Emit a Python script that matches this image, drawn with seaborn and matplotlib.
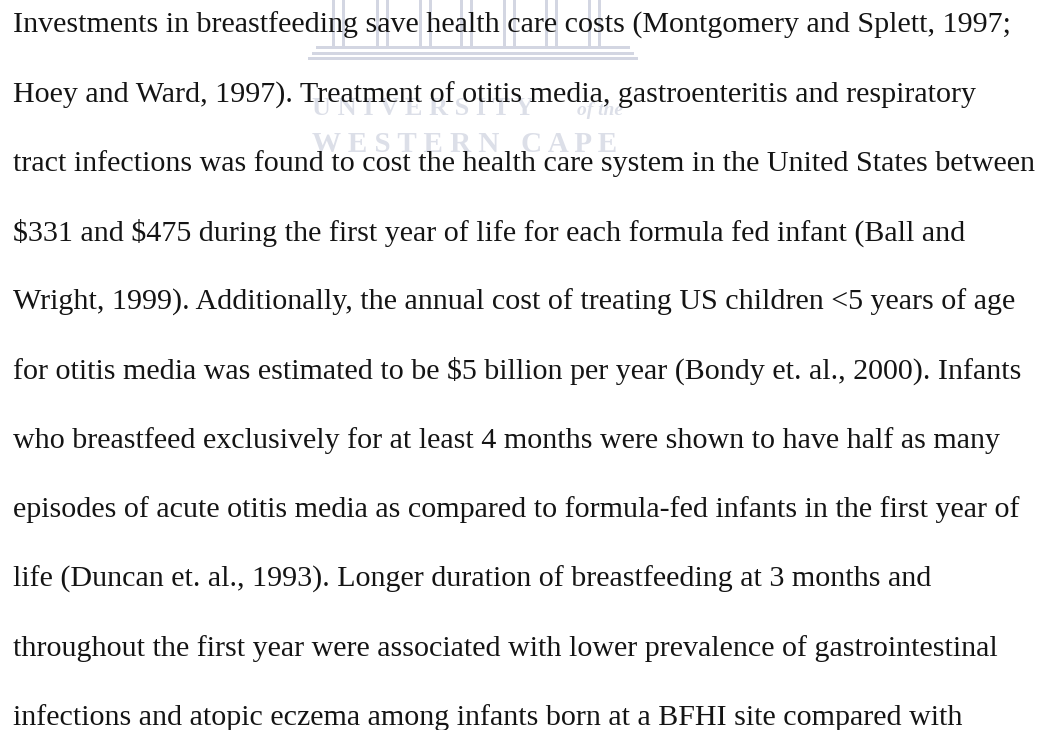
import matplotlib
matplotlib.use("Agg")
import matplotlib.pyplot as plt
import seaborn as sns

# ===== Page text (one entry per printed line) =====
lines = [
    "Investments in breastfeeding save health care costs (Montgomery and Splett, 1997;",
    "Hoey and Ward, 1997). Treatment of otitis media, gastroenteritis and respiratory",
    "tract infections was found to cost the health care system in the United States between",
    "$331 and $475 during the first year of life for each formula fed infant (Ball and",
    "Wright, 1999). Additionally, the annual cost of treating US children <5 years of age",
    "for otitis media was estimated to be $5 billion per year (Bondy et. al., 2000). Infants",
    "who breastfeed exclusively for at least 4 months were shown to have half as many",
    "episodes of acute otitis media as compared to formula-fed infants in the first year of",
    "life (Duncan et. al., 1993). Longer duration of breastfeeding at 3 months and",
    "throughout the first year were associated with lower prevalence of gastrointestinal",
    "infections and atopic eczema among infants born at a BFHI site compared with",
]

# watermark
wm_top = "U N I V E R S I T Y"
wm_small = "of the"
wm_bottom = "W E S T E R N   C A P E"

sns.set_theme(style="white")
plt.rcParams['font.family'] = ['Liberation Serif', 'DejaVu Serif']

W, H = 1043, 730
fig = plt.figure(figsize=(W / 100, H / 100), dpi=100)
fig.patch.set_facecolor("white")
ax = fig.add_axes([0, 0, 1, 1])
ax.set_xlim(0, W)
ax.set_ylim(H, 0)
ax.axis("off")

wm_col = "#d3d6e2"
wm_txt = "#dcdfe8"

# ===== Watermark: columns and steps =====
col_centers = [338, 382, 425, 466, 509, 551, 594]
for c in col_centers:
    ax.add_patch(plt.Rectangle((c - 6, 0), 3, 46, color=wm_col, lw=0, zorder=0))
    ax.add_patch(plt.Rectangle((c + 4, 0), 3, 46, color=wm_col, lw=0, zorder=0))
for (x0, x1, y0) in [(316, 630, 46), (312, 634, 51.5), (308, 638, 57)]:
    ax.add_patch(plt.Rectangle((x0, y0), x1 - x0, 3, color=wm_col, lw=0, zorder=0))

# ===== Watermark: letter-spaced text =====
ax.text(312, 115, wm_top, fontsize=19, weight="bold", color=wm_txt, ha="left",
        va="baseline", zorder=0, parse_math=False)
ax.text(600, 115, wm_small, fontsize=14, style="italic", weight="bold",
        color=wm_txt, ha="center", va="baseline", zorder=0, parse_math=False)
ax.text(312, 152, wm_bottom, fontsize=21, weight="bold", color=wm_txt,
        ha="left", va="baseline", zorder=0, parse_math=False)

# ===== Body text, font size fitted to the first line width =====
fs = 20.5
probe = ax.text(13, 33, lines[0], fontsize=fs, parse_math=False)
fig.canvas.draw()
w = probe.get_window_extent(fig.canvas.get_renderer()).width
probe.remove()
fs = fs * 997 / w

y0, dy = 33, 69.2
for i, line in enumerate(lines):
    ax.text(13, y0 + i * dy, line, fontsize=fs, color="#141414",
            ha="left", va="baseline", zorder=2, parse_math=False)

fig.savefig("out.png", dpi=100, facecolor="white")
